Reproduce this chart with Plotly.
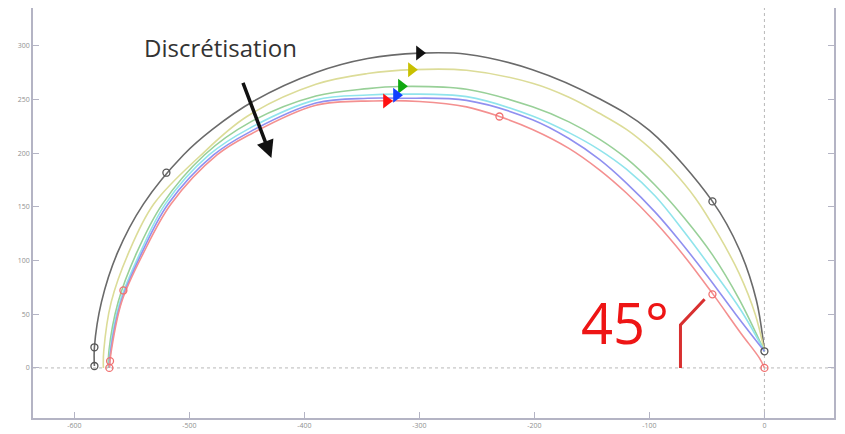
import plotly.graph_objects as go

# ---- data ----
black_x = [-582.6, -582.6, -576.5, -562.7, -540.0, -505.2, -480.0, -444.0, -390.0, -345.0, -300.0, -259.0, -201.7, -143.5, -100.0, -45.2, -21.7, -7.0, 0.0]
black_y = [1.8, 19.2, 61.2, 106.8, 152.5, 198.2, 222.0, 248.4, 275.0, 288.0, 293.0, 292.0, 277.6, 250.5, 221.0, 155.0, 110.0, 63.0, 15.5]

yellow_x = [-574.8, -574.5, -568.0, -553.0, -531.0, -491.0, -450.0, -390.0, -345.0, -305.0, -259.0, -201.7, -170.0, -143.5, -120.0, -100.0, -80.0, -60.0, -40.0, -22.0, -8.0, 0.0]
yellow_y = [0.0, 15.5, 61.2, 106.8, 152.5, 197.0, 234.0, 264.0, 274.0, 277.6, 277.0, 265.0, 252.0, 237.0, 222.0, 205.0, 184.0, 158.0, 124.0, 88.0, 50.0, 15.5]

green_x = [-570.4, -570.0, -562.0, -546.0, -523.5, -487.0, -447.8, -390.0, -345.0, -317.0, -259.0, -201.7, -170.0, -143.5, -120.0, -95.0, -70.0, -45.0, -22.0, 0.0]
green_y = [0.0, 15.5, 61.2, 106.8, 152.5, 198.2, 228.3, 253.0, 260.0, 262.0, 259.4, 243.0, 229.0, 213.0, 195.0, 170.0, 140.0, 105.0, 64.0, 15.5]

cyan_x = [-569.6, -569.0, -560.5, -543.0, -521.0, -483.0, -447.8, -390.0, -345.0, -317.0, -259.0, -201.7, -170.0, -143.5, -120.0, -95.0, -70.0, -45.0, -20.0, 0.0]
cyan_y = [0.0, 15.5, 61.2, 106.8, 152.5, 198.2, 223.0, 249.5, 254.0, 254.8, 252.5, 234.5, 219.0, 203.0, 185.0, 160.0, 127.0, 91.0, 53.0, 15.5]

blue_x = [-569.6, -568.5, -559.5, -541.5, -518.5, -479.0, -447.8, -390.0, -345.0, -317.0, -259.0, -201.7, -170.0, -143.5, -120.0, -95.0, -75.0, -50.0, -25.0, 0.0]
blue_y = [0.0, 15.5, 61.2, 106.8, 152.5, 198.2, 219.5, 246.5, 251.0, 251.0, 249.0, 231.0, 213.5, 194.0, 172.0, 145.0, 120.0, 86.0, 50.0, 15.5]

red_x = [-569.6, -569.0, -568.0, -559.0, -540.0, -516.0, -476.0, -447.8, -390.0, -340.0, -300.0, -259.0, -230.4, -201.7, -170.0, -143.5, -120.0, -95.0, -70.0, -45.2, -20.0, -4.3, 0.0]
red_y = [0.0, 6.4, 15.5, 61.2, 106.8, 152.5, 198.2, 217.0, 244.5, 248.5, 248.0, 243.0, 234.0, 222.0, 204.4, 184.4, 162.8, 135.8, 104.5, 69.4, 31.6, 9.1, 0.0]

black_mk_x = [-582.6, -582.6, -520.0, -45.2, 0.0]
black_mk_y = [1.8, 19.2, 181.7, 155.0, 15.5]
red_mk_x = [-569.6, -569.0, -557.4, -230.4, -45.2, 0.0]
red_mk_y = [0.0, 6.4, 72.1, 234.0, 68.5, 0.0]

arrow_x = [-300.0, -307.0, -315.7, -320.0, -328.7]
arrow_y = [293.2, 277.6, 262.1, 253.9, 248.4]
arrow_colors = ["#111111", "#c8c000", "#10a810", "#1040ff", "#ff1010"]

angle_x = [-73.0, -73.0, -52.0]
angle_y = [0.0, 40.0, 64.0]

x_ticks = [-600, -500, -400, -300, -200, -100, 0]
y_ticks = [0, 50, 100, 150, 200, 250, 300]

series = [
    (black_x, black_y, "#6a6a6a"),
    (yellow_x, yellow_y, "#dcdc98"),
    (green_x, green_y, "#98d098"),
    (cyan_x, cyan_y, "#90e4ec"),
    (blue_x, blue_y, "#9090f0"),
    (red_x, red_y, "#f49090"),
]

X_RANGE = [-636, 60.5]
Y_RANGE = [-46.6, 335]

fig = go.Figure()

# dotted reference lines
fig.add_trace(go.Scatter(x=X_RANGE, y=[0, 0], mode="lines",
                         line=dict(color="#b8b8b8", width=1, dash="dot"), hoverinfo="skip"))
fig.add_trace(go.Scatter(x=[0, 0], y=Y_RANGE, mode="lines",
                         line=dict(color="#b8b8b8", width=1, dash="dot"), hoverinfo="skip"))

for xs, ys, c in series:
    fig.add_trace(go.Scatter(x=xs, y=ys, mode="lines",
                             line=dict(color=c, width=1.6, shape="spline", smoothing=1.0)))

fig.add_trace(go.Scatter(x=black_mk_x, y=black_mk_y, mode="markers",
                         marker=dict(symbol="circle-open", size=7, color="#555555", line=dict(width=1.3))))
fig.add_trace(go.Scatter(x=red_mk_x, y=red_mk_y, mode="markers",
                         marker=dict(symbol="circle-open", size=7, color="#f07070", line=dict(width=1.3))))

fig.add_trace(go.Scatter(x=arrow_x, y=arrow_y, mode="markers",
                         marker=dict(symbol="triangle-right", size=13, color=arrow_colors)))

# 45 degree sketch
fig.add_trace(go.Scatter(x=angle_x, y=angle_y, mode="lines",
                         line=dict(color="#d83030", width=3)))

fig.add_annotation(x=-473, y=298.6, text="Discrétisation", showarrow=False,
                   font=dict(family="Open Sans", size=24, color="#333333"))
fig.add_annotation(x=-428.7, y=195.4, ax=-453.9, ay=266.7, xref="x", yref="y",
                   axref="x", ayref="y", text="", showarrow=True,
                   arrowhead=2, arrowsize=1, arrowwidth=3.5, arrowcolor="#111111")
fig.add_annotation(x=-121, y=43, text="45°", showarrow=False,
                   font=dict(family="Open Sans", size=56, color="#ee1515"))

fig.update_layout(
    width=845, height=434,
    margin=dict(l=25, r=19, t=0, b=24, autoexpand=False),
    paper_bgcolor="white", plot_bgcolor="white",
    showlegend=False,
)
fig.update_xaxes(range=X_RANGE, tickvals=x_ticks, ticktext=[str(v) for v in x_ticks],
                 showgrid=False, zeroline=False, showline=True, linecolor="#b4b4c4", linewidth=1.5,
                 ticks="inside", ticklen=6, tickcolor="#b4b4c4", automargin=False,
                 tickfont=dict(size=7, color="#909090"), mirror=False)
fig.update_yaxes(range=Y_RANGE, tickvals=y_ticks, ticktext=[str(v) for v in y_ticks],
                 showgrid=False, zeroline=False, showline=True, linecolor="#b4b4c4", linewidth=1.5,
                 ticks="inside", ticklen=6, tickcolor="#b4b4c4", automargin=False,
                 tickfont=dict(size=7, color="#909090"), mirror="ticks")

fig.write_html("out.html")
